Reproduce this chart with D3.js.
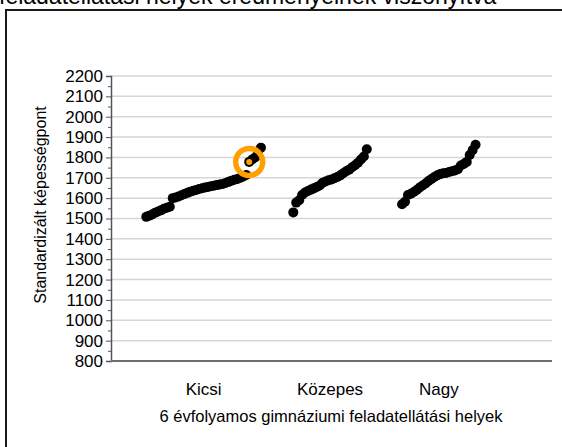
<!DOCTYPE html>
<html>
<head>
<meta charset="utf-8">
<script src="https://cdn.jsdelivr.net/npm/d3@7"></script>
<style>
  body { margin: 0; background: #fff; }
  svg { display: block; font-family: 'Liberation Sans', Arial, sans-serif; }
</style>
</head>
<body>
<div id="chart"></div>
<script>
// data
const categories = ['Kicsi', 'Közepes', 'Nagy']
const groupStart = [12, 62, 99] // rank position where each group begins

const kicsi = [1508, 1514, 1520, 1528, 1534, 1540, 1548, 1553, 1558, 1600,
  1603, 1608, 1614, 1620, 1626, 1632, 1636, 1640, 1645, 1649,
  1652, 1655, 1658, 1661, 1664, 1667, 1670, 1674, 1680, 1686,
  1690, 1694, 1700, 1706, 1714, 1778, 1790, 1800, 1830, 1848]
const kozepes = [1530, 1578, 1590, 1615, 1628, 1635, 1642, 1648, 1655, 1662,
  1676, 1682, 1688, 1692, 1698, 1704, 1712, 1722, 1732, 1740,
  1752, 1762, 1774, 1790, 1805, 1840]
const nagy = [1570, 1582, 1615, 1622, 1630, 1640, 1652, 1662, 1672, 1684,
  1694, 1704, 1712, 1718, 1722, 1724, 1728, 1732, 1736, 1742,
  1760, 1768, 1778, 1812, 1836, 1862]

const yTickValues = [800, 900, 1000, 1100, 1200, 1300, 1400, 1500, 1600,
  1700, 1800, 1900, 2000, 2100, 2200]
const highlight = { group: 0, index: 35 }

const title = 'feladatellátási helyek eredményeinek viszonyítva'
const yTitle = 'Standardizált képességpont'
const xTitle = '6 évfolyamos gimnáziumi feladatellátási helyek'

const width = 562
const height = 447
const plot = { left: 111, right: 552, top: 76, bottom: 361 }

const svg = d3.select('#chart')
  .append('svg')
  .attr('width', width)
  .attr('height', height)

const x = d3.scaleLinear().domain([0, 150]).range([plot.left, plot.right])
const y = d3.scaleLinear().domain([800, 2200]).range([plot.bottom, plot.top])

// outer frame (runs off the right and bottom edges)
svg.append('path')
  .attr('d', `M6,${height} V10 H${width}`)
  .attr('fill', 'none')
  .attr('stroke', '#1a1a1a')
  .attr('stroke-width', 2)

// title, cut off at the top edge like in the source
svg.append('text')
  .attr('x', -1)
  .attr('y', 4)
  .attr('font-size', 23)
  .attr('fill', '#000')
  .text(title)

// gridlines
svg.append('g')
  .selectAll('line')
  .data(yTickValues.slice(1))
  .enter()
  .append('line')
  .attr('x1', plot.left)
  .attr('x2', plot.right)
  .attr('y1', d => y(d))
  .attr('y2', d => y(d))
  .attr('stroke', '#d6d6d6')
  .attr('stroke-width', 1.5)

// minor ticks
const minor = d3.range(850, 2200, 100)
svg.append('g')
  .attr('transform', `translate(${plot.left},0)`)
  .call(d3.axisLeft(y).tickValues(minor).tickSize(3).tickFormat(''))
  .call(g => g.select('.domain').remove())
  .call(g => g.selectAll('line').attr('stroke', '#555'))

// y axis
const yAxis = svg.append('g')
  .attr('transform', `translate(${plot.left},0)`)
  .call(d3.axisLeft(y).tickValues(yTickValues).tickSize(5).tickPadding(3)
    .tickFormat(d3.format('d')))
yAxis.select('.domain').attr('stroke', '#555').attr('stroke-width', 1.5)
yAxis.selectAll('line').attr('stroke', '#555')
yAxis.selectAll('text')
  .attr('font-size', 17)
  .attr('font-family', 'Liberation Sans, Arial, sans-serif')
  .attr('fill', '#000')

// x axis baseline
svg.append('line')
  .attr('x1', plot.left)
  .attr('x2', plot.right)
  .attr('y1', plot.bottom)
  .attr('y2', plot.bottom)
  .attr('stroke', '#6e6e6e')
  .attr('stroke-width', 2)

// points
const groups = [kicsi, kozepes, nagy]
const points = groups.flatMap((vals, g) =>
  vals.map((v, i) => ({ g, i, x: groupStart[g] + i, v })))

svg.append('g')
  .selectAll('circle')
  .data(points)
  .enter()
  .append('circle')
  .attr('cx', d => x(d.x))
  .attr('cy', d => y(d.v))
  .attr('r', 5)
  .attr('fill', '#000')

// highlighted school
const hl = points.find(d => d.g === highlight.group && d.i === highlight.index)
svg.append('circle')
  .attr('cx', x(hl.x))
  .attr('cy', y(hl.v))
  .attr('r', 13.5)
  .attr('fill', 'none')
  .attr('stroke', '#ffa000')
  .attr('stroke-width', 5.5)
svg.append('circle')
  .attr('cx', x(hl.x))
  .attr('cy', y(hl.v))
  .attr('r', 3)
  .attr('fill', '#ffa000')

// category labels
svg.append('g')
  .selectAll('text')
  .data(categories)
  .enter()
  .append('text')
  .attr('x', (d, i) => x(groupStart[i] + (groups[i].length - 1) / 2))
  .attr('y', 395)
  .attr('text-anchor', 'middle')
  .attr('font-size', 17)
  .text(d => d)

// axis titles
svg.append('text')
  .attr('x', 331)
  .attr('y', 422)
  .attr('text-anchor', 'middle')
  .attr('font-size', 16.5)
  .text(xTitle)

svg.append('text')
  .attr('transform', 'translate(46,205) rotate(-90)')
  .attr('text-anchor', 'middle')
  .attr('font-size', 16)
  .text(yTitle)
</script>
</body>
</html>
